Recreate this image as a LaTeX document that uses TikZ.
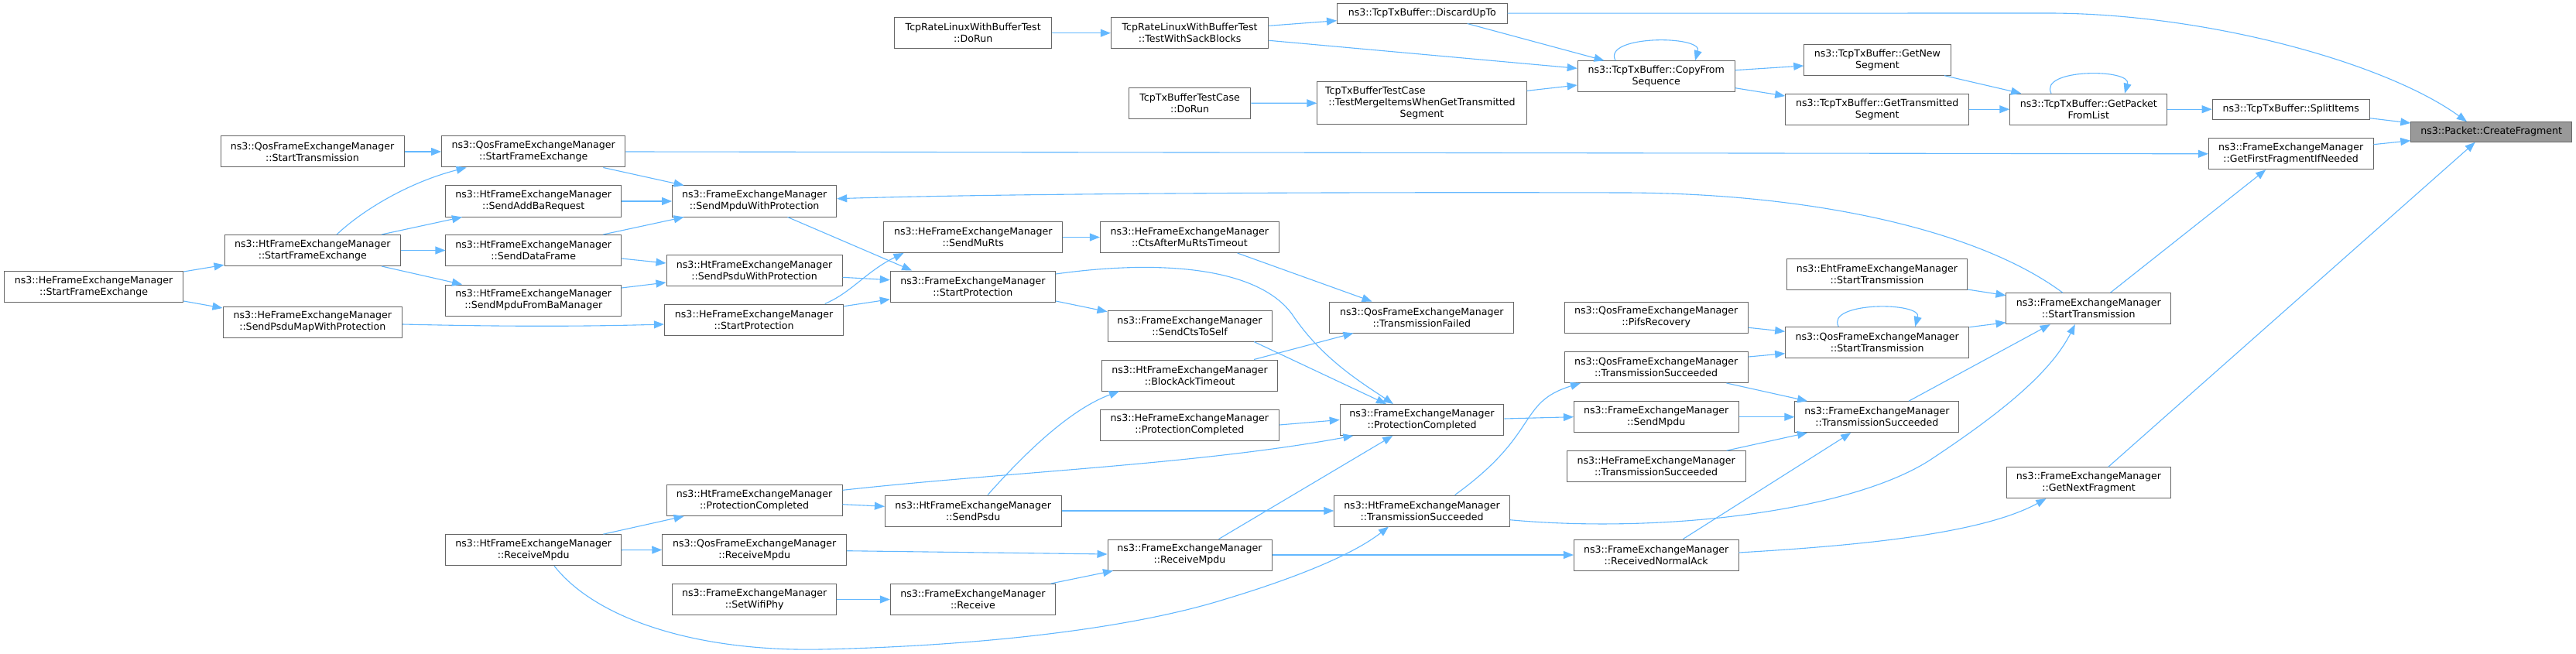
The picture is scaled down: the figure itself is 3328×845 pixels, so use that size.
\documentclass[tikz,border=0pt]{standalone}
\usepackage{fontspec}
\setmainfont{DejaVu Sans}
\usetikzlibrary{arrows.meta,calc}
\definecolor{edgecol}{HTML}{63B8FF}
\definecolor{bordercol}{HTML}{666666}
\definecolor{rootfill}{HTML}{999999}
\newcommand\dxfont{\fontsize{12.6}{15}\selectfont}
\begin{document}
\begin{tikzpicture}[x=1pt,y=-1pt,
  box/.style={draw=bordercol, fill=white, line width=1pt, inner sep=0pt, minimum height=40pt, align=center, font=\dxfont},
  onebox/.style={box, minimum height=25.7pt},
  rootbox/.style={box, fill=rootfill, minimum height=25.6pt},
  e/.style={draw=edgecol, line width=1.1pt, -{Triangle[length=13pt,width=10pt]}}]
\useasboundingbox (0,0) rectangle (3328,845);
\fill[white] (0,0) rectangle (3328,845);
% column 1
\node[box, minimum width=231.4pt] (heSFE) at (121.1,370.5) {ns3::HeFrameExchangeManager\\::StartFrameExchange};
% column 2
\node[box, minimum width=237pt] (qosST) at (403.5,196) {ns3::QosFrameExchangeManager\\::StartTransmission};
\node[box, minimum width=227.5pt] (htSFE) at (403.8,323.5) {ns3::HtFrameExchangeManager\\::StartFrameExchange};
\node[box, minimum width=231.6pt] (hePsduMap) at (403.8,416) {ns3::HeFrameExchangeManager\\::SendPsduMapWithProtection};
% column 3
\node[box, minimum width=237.3pt] (qosSFE) at (689.2,196) {ns3::QosFrameExchangeManager\\::StartFrameExchange};
\node[box, minimum width=226.5pt] (htAddBa) at (689.2,260) {ns3::HtFrameExchangeManager\\::SendAddBaRequest};
\node[box, minimum width=226.5pt] (htData) at (689.2,323.5) {ns3::HtFrameExchangeManager\\::SendDataFrame};
\node[box, minimum width=226.5pt] (htBaMgr) at (689.2,388) {ns3::HtFrameExchangeManager\\::SendMpduFromBaManager};
\node[box, minimum width=226.5pt] (htRxMpdu) at (689.2,710.7) {ns3::HtFrameExchangeManager\\::ReceiveMpdu};
% column 4
\node[box, minimum width=212.1pt] (femMpduProt) at (974.7,260) {ns3::FrameExchangeManager\\::SendMpduWithProtection};
\node[box, minimum width=227.2pt] (htPsduProt) at (974.6,349) {ns3::HtFrameExchangeManager\\::SendPsduWithProtection};
\node[box, minimum width=231.4pt] (heStartProt) at (974.1,413) {ns3::HeFrameExchangeManager\\::StartProtection};
\node[box, minimum width=227.2pt] (htProtComp) at (974.6,646.5) {ns3::HtFrameExchangeManager\\::ProtectionCompleted};
\node[box, minimum width=237.9pt] (qosRxMpdu) at (974.7,710.5) {ns3::QosFrameExchangeManager\\::ReceiveMpdu};
\node[box, minimum width=212.1pt] (femSetPhy) at (974.7,774.5) {ns3::FrameExchangeManager\\::SetWifiPhy};
% column 5
\node[box, minimum width=203pt] (tcpRateDoRun) at (1257.2,42.7) {TcpRateLinuxWithBufferTest\\::DoRun};
\node[box, minimum width=231pt] (heMuRts) at (1257.3,306.5) {ns3::HeFrameExchangeManager\\::SendMuRts};
\node[box, minimum width=213.2pt] (femStartProt) at (1256.9,370) {ns3::FrameExchangeManager\\::StartProtection};
\node[box, minimum width=227.6pt] (htSendPsdu) at (1257.2,660) {ns3::HtFrameExchangeManager\\::SendPsdu};
\node[box, minimum width=213.2pt] (femRecv) at (1256.9,774.5) {ns3::FrameExchangeManager\\::Receive};
% column 6
\node[box, minimum width=203.6pt] (tcpSack) at (1537.1,42.7) {TcpRateLinuxWithBufferTest\\::TestWithSackBlocks};
\node[box, minimum width=156.4pt] (tcpTxDoRun) at (1537.1,133.2) {TcpTxBufferTestCase\\::DoRun};
\node[box, minimum width=231pt] (heCtsAfter) at (1536.9,306.5) {ns3::HeFrameExchangeManager\\::CtsAfterMuRtsTimeout};
\node[box, minimum width=212pt] (femCtsSelf) at (1537,421) {ns3::FrameExchangeManager\\::SendCtsToSelf};
\node[box, minimum width=227.2pt] (htBATimeout) at (1537.1,485) {ns3::HtFrameExchangeManager\\::BlockAckTimeout};
\node[box, minimum width=231pt] (heProtComp) at (1536.9,549) {ns3::HeFrameExchangeManager\\::ProtectionCompleted};
\node[box, minimum width=212pt] (femRxMpdu) at (1537,717) {ns3::FrameExchangeManager\\::ReceiveMpdu};
% column 7
\node[onebox, minimum width=219.6pt] (tcpDiscard) at (1837.3,17.2) {ns3::TcpTxBuffer::DiscardUpTo};
\node[box, minimum width=270.5pt, minimum height=55.3pt, text width=250pt] (tcpMerge) at (1837,133.3) {TcpTxBufferTestCase\hfill\mbox{}\\::TestMergeItemsWhenGetTransmitted\\Segment};
\node[box, minimum width=237.8pt] (qosTxFail) at (1836.8,410) {ns3::QosFrameExchangeManager\\::TransmissionFailed};
\node[box, minimum width=211.7pt] (femProtComp) at (1837,542.5) {ns3::FrameExchangeManager\\::ProtectionCompleted};
\node[box, minimum width=226.5pt] (htTxSucc) at (1837,660) {ns3::HtFrameExchangeManager\\::TransmissionSucceeded};
% column 8
\node[box, minimum width=203.1pt] (tcpCopy) at (2139.7,98.7) {ns3::TcpTxBuffer::CopyFrom\\Sequence};
\node[box, minimum width=237.4pt] (qosPifs) at (2139.7,410) {ns3::QosFrameExchangeManager\\::PifsRecovery};
\node[box, minimum width=237.4pt] (qosTxSucc) at (2139.7,474.5) {ns3::QosFrameExchangeManager\\::TransmissionSucceeded};
\node[box, minimum width=212.6pt] (femSendMpdu) at (2139.7,538.7) {ns3::FrameExchangeManager\\::SendMpdu};
\node[box, minimum width=230.9pt] (heTxSucc) at (2139.7,602.7) {ns3::HeFrameExchangeManager\\::TransmissionSucceeded};
\node[box, minimum width=212.6pt] (femRxAck) at (2139.7,717) {ns3::FrameExchangeManager\\::ReceivedNormalAck};
% column 9
\node[box, minimum width=189.3pt] (tcpGetNew) at (2425.4,77.2) {ns3::TcpTxBuffer::GetNew\\Segment};
\node[box, minimum width=237.1pt] (tcpGetTrans) at (2425.2,141.2) {ns3::TcpTxBuffer::GetTransmitted\\Segment};
\node[box, minimum width=233.4pt] (ehtST) at (2424.9,354.5) {ns3::EhtFrameExchangeManager\\::StartTransmission};
\node[box, minimum width=237.1pt] (qosST2) at (2425.2,442.5) {ns3::QosFrameExchangeManager\\::StartTransmission};
\node[box, minimum width=212pt] (femTxSucc) at (2424.9,538.7) {ns3::FrameExchangeManager\\::TransmissionSucceeded};
% column 10
\node[box, minimum width=203.1pt] (tcpGetPkt) at (2698.3,141.2) {ns3::TcpTxBuffer::GetPacket\\FromList};
\node[box, minimum width=212.7pt] (femST) at (2698.3,398.7) {ns3::FrameExchangeManager\\::StartTransmission};
\node[box, minimum width=212.1pt] (femGetNext) at (2698.5,623.8) {ns3::FrameExchangeManager\\::GetNextFragment};
% column 11
\node[onebox, minimum width=203pt] (tcpSplit) at (2959.7,141.2) {ns3::TcpTxBuffer::SplitItems};
\node[box, minimum width=212.6pt] (femGetFirst) at (2959.7,198.8) {ns3::FrameExchangeManager\\::GetFirstFragmentIfNeeded};
% root
\node[rootbox, minimum width=207.8pt] (createFrag) at (3218.7,170.5) {ns3::Packet::CreateFragment};

% ---- edges ----
\draw[e] (qosST.east) -- (qosSFE.west);
\draw[e] ($(htSFE.north)+(31.2,0)$) .. controls (470,270) and (530,235) .. ($(qosSFE.south)+(-86.6,0)$);
\draw[e] ($(htSFE.north)+(89.2,0)$) -- ($(htAddBa.south)+(-92.2,0)$);
\draw[e] (htSFE.east) -- (htData.west);
\draw[e] ($(htSFE.south)+(89.2,0)$) -- ($(htBaMgr.north)+(-92.2,0)$);
\draw[e] ($(heSFE.east)+(0,-19.5)$) -- ($(htSFE.west)+(0,18.8)$);
\draw[e] ($(heSFE.east)+(0,18.5)$) -- ($(hePsduMap.west)+(0,-18)$);
\draw[e] (qosSFE.east) -- (femGetFirst.west);
\draw[e] ($(qosSFE.south)+(90.1,0)$) -- ($(femMpduProt.north)+(-91.1,0)$);
\draw[e] (htAddBa.east) -- (femMpduProt.west);
\draw[e] ($(htData.north)+(90.1,0)$) -- ($(femMpduProt.south)+(-91.1,0)$);
\draw[e] ($(htData.east)+(0,10.5)$) -- ($(htPsduProt.west)+(0,-9)$);
\draw[e] ($(htBaMgr.east)+(0,-16)$) -- ($(htPsduProt.west)+(0,16)$);
\draw[e] ($(hePsduMap.east)+(0,3)$) .. controls (650,422) and (750,422) .. ($(heStartProt.west)+(0,6)$);
\draw[e] ($(htRxMpdu.north)+(90.1,0)$) -- ($(htProtComp.south)+(-91,0)$);
\draw[e] (htRxMpdu.east) -- (qosRxMpdu.west);
\draw[e] ($(htRxMpdu.south)+(26.8,0)$) .. controls (770,800) and (900,842) .. (1060,839)
   .. controls (1250,835) and (1450,815) .. (1580,775)
   .. controls (1680,745) and (1750,715) .. ($(htTxSucc.south)+(-43,0)$);
\draw[e] (tcpRateDoRun.east) -- (tcpSack.west);
\draw[e] ($(tcpSack.east)+(0,-9.4)$) -- ($(tcpDiscard.west)+(0,9.5)$);
\draw[e] ($(tcpSack.east)+(0,9.6)$) -- ($(tcpCopy.west)+(0,-10.4)$);
\draw[e] (tcpTxDoRun.east) -- (tcpMerge.west);
\draw[e] ($(femMpduProt.south)+(42.8,0)$) -- ($(femStartProt.north)+(-78.7,0)$);
\draw[e] ($(femST.north)+(-33.5,0)$) .. controls (2560,300) and (2350,250) .. (2100,249)
   .. controls (1700,248) and (1300,250) .. ($(femMpduProt.east)+(0,-3.3)$);
\draw[e] (heMuRts.east) -- (heCtsAfter.west);
\draw[e] ($(htPsduProt.east)+(0,9.3)$) -- ($(femStartProt.west)+(0,-8.3)$);
\draw[e] ($(heStartProt.north)+(91.6,0)$) .. controls (1100,378) and (1120,350) .. ($(heMuRts.south)+(-89.8,0)$);
\draw[e] ($(heStartProt.east)+(0,-17.3)$) -- ($(femStartProt.west)+(0,16.7)$);
\draw[e] ($(femStartProt.east)+(0,19)$) -- ($(femCtsSelf.west)+(0,-18.3)$);
\draw[e] ($(femStartProt.east)+(0,-16)$) .. controls (1500,335) and (1630,345) .. (1672,410)
   .. controls (1710,465) and (1760,495) .. ($(femProtComp.north)+(-37,0)$);
\draw[e] ($(femCtsSelf.south)+(83,0)$) -- ($(femProtComp.north)+(-46,0)$);
\draw[e] ($(htBATimeout.north)+(82.9,0)$) -- ($(qosTxFail.south)+(-88.4,0)$);
\draw[e] ($(heCtsAfter.south)+(61.7,0)$) -- ($(qosTxFail.north)+(-64.3,0)$);
\draw[e] (heProtComp.east) -- (femProtComp.west);
\draw[e] ($(htProtComp.east)+(0,-13.2)$) .. controls (1300,610) and (1550,600) .. ($(femProtComp.south)+(-88.6,0)$);
\draw[e] ($(htSendPsdu.north)+(18.8,0)$) .. controls (1320,590) and (1380,530) .. ($(htBATimeout.south)+(-91.1,0)$);
\draw[e] (htSendPsdu.east) -- (htTxSucc.west);
\draw[e] ($(femRxMpdu.north)+(37.5,0)$) -- ($(femProtComp.south)+(-37.7,0)$);
\draw[e] (femRxMpdu.east) -- (femRxAck.west);
\draw[e] ($(htProtComp.east)+(0,5.2)$) -- ($(htSendPsdu.west)+(0,-5.7)$);
\draw[e] ($(qosRxMpdu.east)+(0,1.2)$) -- ($(femRxMpdu.west)+(0,-1)$);
\draw[e] (femSetPhy.east) -- (femRecv.west);
\draw[e] ($(femRecv.north)+(100.7,0)$) -- ($(femRxMpdu.south)+(-99,0)$);
\draw[e] ($(qosPifs.east)+(0,13.3)$) -- ($(qosST2.west)+(0,-14.2)$);
\draw[e] ($(qosTxSucc.east)+(0,-13.5)$) -- ($(qosST2.west)+(0,14.2)$);
\draw[e] ($(qosTxSucc.south)+(90.8,0)$) -- ($(femTxSucc.north)+(-89.9,0)$);
\draw[e] ($(femProtComp.east)+(0,-1.5)$) -- (femSendMpdu.west);
\draw[e] (femSendMpdu.east) -- (femTxSucc.west);
\draw[e] ($(heTxSucc.north)+(90.8,0)$) -- ($(femTxSucc.south)+(-89.9,0)$);
\draw[e] ($(femRxAck.north)+(34.6,0)$) -- ($(femTxSucc.south)+(-33.7,0)$);
\draw[e] ($(htTxSucc.north)+(42.6,0)$) .. controls (1990,560) and (1960,520) .. ($(qosTxSucc.south)+(-97.7,0)$);
\draw[e] ($(htTxSucc.east)+(0,11.7)$) .. controls (2150,690) and (2400,660) .. (2500,590)
   .. controls (2590,530) and (2650,480) .. ($(femST.south)+(-17.5,0)$);
\draw[e] ($(femRxAck.east)+(0,-3)$) .. controls (2400,705) and (2560,690) .. ($(femGetNext.south)+(-55.1,0)$);
\draw[e] ($(femTxSucc.north)+(41.1,0)$) -- ($(femST.south)+(-49.6,0)$);
\draw[e] ($(ehtST.east)+(0,19.5)$) -- ($(femST.west)+(0,-17)$);
\draw[e] ($(qosST2.east)+(0,-19.8)$) -- ($(femST.west)+(0,18)$);
\draw[e] ($(femST.north)+(28.1,0)$) -- ($(femGetFirst.south)+(-32.5,0)$);
\draw[e] ($(femGetNext.north)+(25.2,0)$) -- ($(createFrag.south)+(-21,0)$);
\draw[e] ($(femGetFirst.east)+(0,-12.1)$) -- ($(createFrag.west)+(0,11.2)$);
\draw[e] ($(tcpSplit.east)+(0,11.5)$) -- ($(createFrag.west)+(0,-11.5)$);
\draw[e] (tcpDiscard.east) -- (2650,17) .. controls (2850,18) and (3080,80) .. ($(createFrag.north)+(-31.7,0)$);
\draw[e] (tcpGetPkt.east) -- (tcpSplit.west);
\draw[e] ($(tcpGetNew.south)+(86.6,0)$) -- ($(tcpGetPkt.north)+(-87.1,0)$);
\draw[e] (tcpGetTrans.east) -- (tcpGetPkt.west);
\draw[e] ($(tcpCopy.east)+(0,-8)$) -- ($(tcpGetNew.west)+(0,7.8)$);
\draw[e] ($(tcpCopy.east)+(0,15)$) -- ($(tcpGetTrans.west)+(0,-17.2)$);
\draw[e] ($(tcpDiscard.south)+(58.4,0)$) -- ($(tcpCopy.north)+(-67.2,0)$);
\draw[e] ($(tcpMerge.east)+(0,-16)$) -- ($(tcpCopy.west)+(0,11.3)$);
% self loops
\draw[e] ($(tcpCopy.north)+(-52.7,0)$) .. controls ($(tcpCopy.north)+(-70,-33)$) and ($(tcpCopy.north)+(60,-33)$) .. ($(tcpCopy.north)+(50.3,0)$);
\draw[e] ($(tcpGetPkt.north)+(-48.3,0)$) .. controls ($(tcpGetPkt.north)+(-65,-32.4)$) and ($(tcpGetPkt.north)+(56,-32.4)$) .. ($(tcpGetPkt.north)+(46.7,0)$);
\draw[e] ($(qosST2.north)+(-50,0)$) .. controls ($(qosST2.north)+(-67,-32.4)$) and ($(qosST2.north)+(58,-32.4)$) .. ($(qosST2.north)+(49,0)$);
\end{tikzpicture}
\end{document}
